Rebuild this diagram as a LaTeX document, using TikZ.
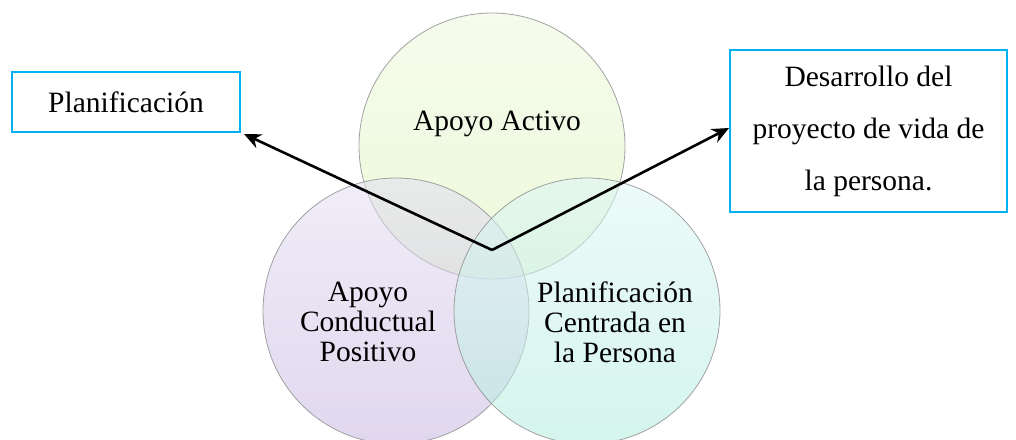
\documentclass[tikz,border=0pt]{standalone}
\usepackage{fontspec}
\setmainfont{Liberation Serif}
\usetikzlibrary{arrows.meta,calc}
\definecolor{boxblue}{RGB}{0,176,240}
\definecolor{topA}{RGB}{238,248,222}
\definecolor{topB}{RGB}{218,244,185}
\definecolor{leftA}{RGB}{228,222,242}
\definecolor{leftB}{RGB}{200,183,225}
\definecolor{rightA}{RGB}{222,246,246}
\definecolor{rightB}{RGB}{178,236,222}
\tikzset{
  venn/.style={circle, minimum size=266pt, inner sep=0pt, draw=black!45, line width=0.8pt, fill opacity=0.55, draw opacity=0.8},
  lbl/.style={align=center, font=\fontsize{29.5}{30}\selectfont},
  infobox/.style={draw=boxblue, line width=2pt, fill=white, align=center, inner sep=0pt},
  conn/.style={line width=2.6pt, -{Stealth[length=17pt,width=15pt]}}
}
\begin{document}
\begin{tikzpicture}[x=1pt,y=-1pt]
\useasboundingbox (0,0) rectangle (1016,439);
\node[venn, top color=topA, bottom color=topB] (ctop) at (492,146) {};
\node[venn, top color=leftA, bottom color=leftB] (cleft) at (396,311) {};
\node[venn, top color=rightA, bottom color=rightB] (cright) at (587,311) {};
\node[lbl] (ttop) at (497,124) {Apoyo Activo};
\node[lbl] (tleft) at (368,322) {Apoyo\\Conductual\\Positivo};
\node[lbl] (tright) at (615,322) {Planificación\\Centrada en\\la Persona};
\node[infobox, minimum width=228pt, minimum height=60pt, font=\fontsize{29.5}{30}\selectfont] (lbox) at (126,102) {Planificación};
\node[infobox, minimum width=277pt, minimum height=162pt, font=\fontsize{29.5}{52}\selectfont] (rbox) at (868.5,131) {Desarrollo del\\proyecto de vida de\\la persona.};
\coordinate (j) at (492,250);
\draw[conn] (j) -- ($(lbox.south east)+(3,1)$);
\draw[conn] (j) -- ($(rbox.west)+(0,-3)$);
\end{tikzpicture}
\end{document}
